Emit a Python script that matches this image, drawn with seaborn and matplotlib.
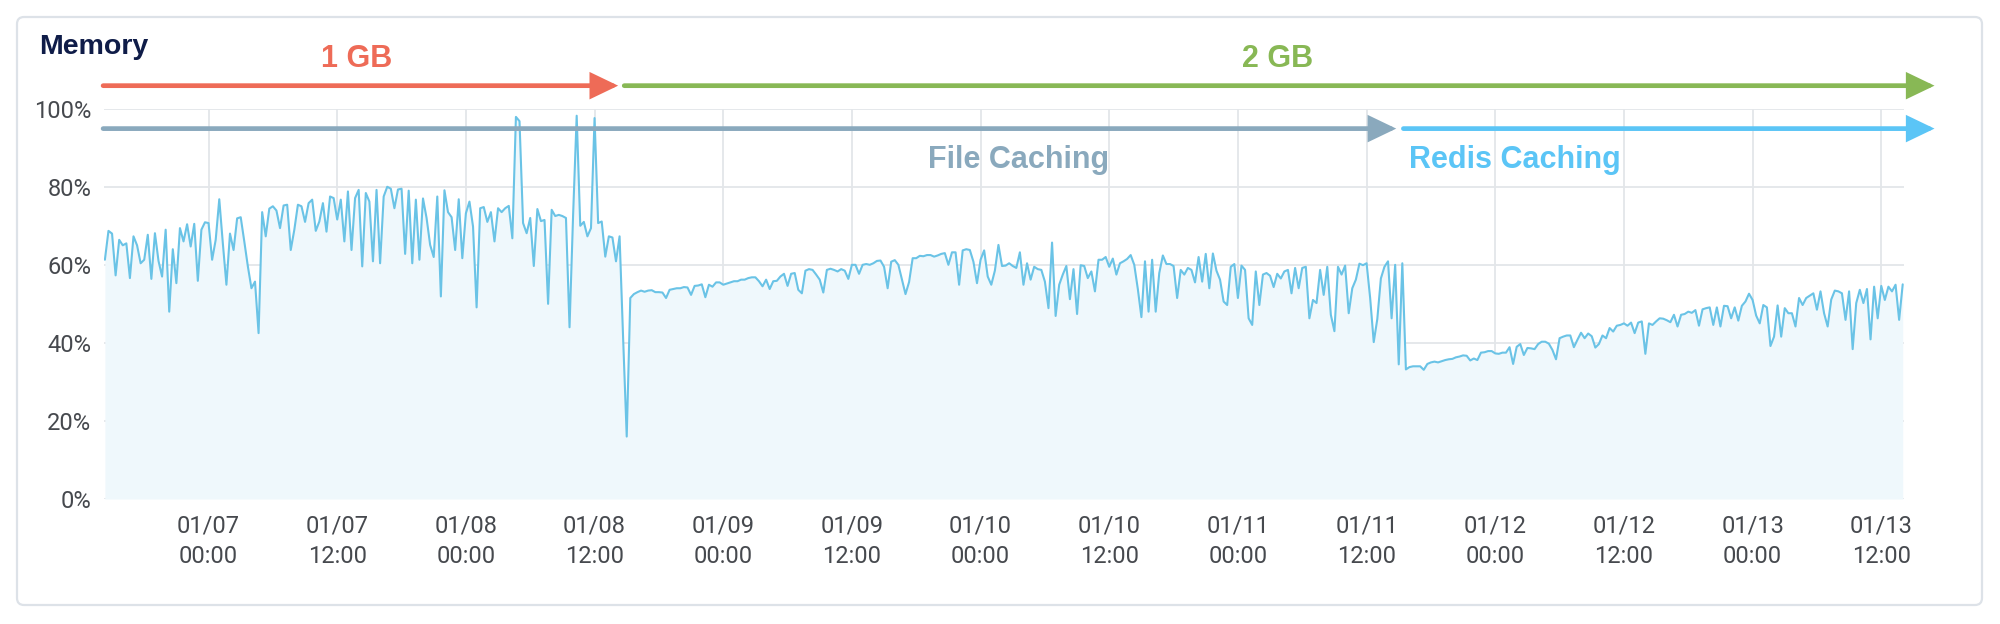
import matplotlib
matplotlib.use("Agg")
import matplotlib.pyplot as plt
import matplotlib.dates as mdates
import matplotlib.patches as mpatches
import matplotlib.transforms as mtransforms
import seaborn as sns
import numpy as np
import pandas as pd

# memory usage (%), one reading every 20 minutes
mem_1gb = [
    61.3, 68.7, 68, 57.3, 66.4, 65, 65.5, 56.6, 67.3, 65,
    60.4, 61.3, 67.7, 56.4, 68.1, 61, 57, 69, 48, 64,
    55.3, 69.4, 66, 70.4, 64.7, 70.5, 55.9, 69, 70.9, 70.7,
    61.3, 66.4, 76.8, 65.5, 54.9, 68, 63.8, 71.9, 72.2, 66,
    59.6, 54, 55.7, 42.5, 73.5, 67.3, 74.4, 75, 73.9, 69.4,
    75.2, 75.4, 63.8, 69, 75.4, 75, 71, 75.8, 76.7, 68.7,
    71.1, 75.8, 68.5, 77.5, 77.1, 71.6, 76.7, 66, 78.8, 63.8,
    77.1, 79.2, 59.6, 78.4, 76.2, 60.9, 79.2, 60.4, 77.5, 80,
    79.5, 74.5, 79.3, 79.5, 62.8, 79, 60.4, 76.7, 61.3, 77,
    72, 65.1, 62, 77.5, 51.9, 79.1, 73.5, 72.2, 63.8, 76.8,
    61.7, 73.2, 76.2, 69.8, 49.1, 74.5, 74.8, 71, 73.5, 66,
    74.5, 73.5, 74.5, 75.1, 66.8, 97.9, 96.8, 70.7, 68.1, 72,
    59.7, 74.3, 71.2, 71.5, 50, 74.1, 72.5, 72.8, 72.5, 72,
    44, 72.8, 98.2, 70, 71, 67.3, 69.4, 97.6, 70.7, 71.1,
    62.1, 67.3, 67, 60.9, 67.3, 41, 16,
]
mem_2gb_file = [
    51.5, 52.5, 53,
    53.4, 53.1, 53.4, 53.5, 53, 53, 52.9, 51.5, 53.6, 53.8,
    54, 54, 54.3, 54.2, 52.3, 54.6, 54.7, 55, 51.7, 54.9,
    54.4, 55.5, 55.5, 54.9, 55.2, 55.5, 55.8, 55.8, 56.2, 56.2,
    56.6, 56.8, 56.8, 55.8, 54.5, 56.2, 53.8, 55.8, 55.9, 57,
    57.7, 54.6, 57.7, 57.9, 53.6, 52.7, 58.5, 58.9, 58.7, 57.5,
    56.2, 52.9, 58.7, 59, 58.7, 58.3, 58.9, 58.5, 56.4, 60,
    60, 57.7, 60, 60.2, 60, 60.4, 61, 61.1, 59.5, 54,
    60.8, 61.2, 60, 56.2, 52.5, 55.6, 61.7, 61.7, 62.3, 62.2,
    62.5, 62.5, 62.1, 62.4, 62.8, 63, 60, 63.2, 63.2, 54.9,
    63.7, 64, 63.8, 60.8, 55.3, 61.3, 63.7, 57, 54.9, 58.5,
    65.1, 59.7, 59.8, 60.4, 59.7, 59.2, 63.2, 54.9, 60.4, 56.2,
    59.5, 58.9, 58.7, 55.7, 48.9, 65.7, 46.9, 54.9, 57.5, 59.7,
    51.2, 58.9, 47.4, 59.9, 59.7, 56.6, 58.3, 53.2, 61.3, 61.3,
    62, 59.5, 61.6, 57.5, 60.4, 60.9, 61.5, 62.5, 60, 53.8,
    46.6, 60.9, 48, 61.3, 48, 57.9, 62.4, 60.2, 60.2, 59.7,
    51.5, 58.7, 57.5, 59.2, 58.7, 55.5, 62, 55.7, 62.8, 54,
    62.9, 58.5, 56.2, 50.6, 49.7, 59.5, 60.2, 51.5, 59.8, 58.7,
    46.3, 44.6, 58.3, 49.7, 57.5, 57.9, 57.2, 54.3, 57.7, 56.5,
    58.3, 58.7, 52.7, 59.2, 54, 59.2, 59.5, 46.3, 51, 50.2,
    58.7, 52.3, 59.5, 47.2, 43, 59.5, 57.5, 59.8, 47.6, 54,
    56.2, 60.3, 59.9, 60.4, 51.5, 40.2, 46.1, 56.5, 59.5, 60.9,
    46.3, 60, 34.5, 60.4,
]
mem_2gb_redis = [
    33.2, 33.8, 34, 34, 34, 33.1,
    34.6, 35, 35.2, 35, 35.3, 35.6, 35.8, 35.9, 36.3, 36.5,
    36.8, 36.7, 35.5, 36, 35.6, 37.5, 37.6, 37.9, 37.9, 37.3,
    37.2, 37.5, 37.5, 38.9, 34.6, 39, 39.7, 36.9, 38.7, 38.6,
    38.4, 39.7, 40.3, 40.3, 39.8, 38.2, 35.8, 41.2, 41.6, 41.9,
    41.9, 38.9, 40.8, 42.6, 41.2, 42.4, 41.7, 38.8, 39.7, 41.9,
    41.2, 43.8, 42.9, 44.4, 44.6, 45, 44.4, 45.2, 42.5, 45.2,
    45.5, 37.2, 45, 44.6, 45.5, 46.3, 46.2, 45.8, 45.3, 47.2,
    44.2, 47.2, 47.4, 48, 47.7, 48.4, 44.4, 48.6, 48.9, 49.1,
    44.6, 49.1, 44.2, 49.5, 49.4, 46.3, 49.1, 45.7, 49.5, 50.6,
    52.6, 51, 47, 45, 49.7, 49.1, 39.2, 41.6, 49.6, 41.6,
    48.9, 47.6, 47.6, 44.2, 51.5, 49.7, 51.5, 52.1, 52.7, 48.5,
    53.2, 47.6, 44.2, 51.1, 53.4, 53.2, 52.7, 45.9, 53.2, 38.4,
    50.2, 53.6, 50.2, 53.8, 40.9, 54.4, 46.3, 54.6, 51, 54.4,
    53.2, 54.9, 45.9, 55,
]

memory = mem_1gb + mem_2gb_file + mem_2gb_redis
times = pd.date_range("2020-01-06 14:20", periods=len(memory), freq="20min")
df = pd.DataFrame({"time": times, "memory": memory})

tick_times = pd.date_range("2020-01-07 00:00", "2020-01-13 12:00", freq="12h")
y_ticks = [0, 20, 40, 60, 80, 100]

# annotations: label, arrow start, arrow end, label anchor, colour
ram_phases = [
    ("1 GB", "2020-01-06 14:10", "2020-01-08 14:12", "2020-01-07 13:50", "#ee6b57"),
    ("2 GB", "2020-01-08 14:46", "2020-01-13 16:58", "2020-01-11 03:44", "#88b855"),
]
cache_phases = [
    ("File Caching", "2020-01-06 14:10", "2020-01-11 14:46", "2020-01-10 03:30", "#8aa9bd"),
    ("Redis Caching", "2020-01-11 15:26", "2020-01-13 16:58", "2020-01-11 15:56", "#5bc5f6"),
]

sns.set_theme(style="white")
plt.rcParams["font.family"] = ["Roboto", "DejaVu Sans"]

fig = plt.figure(figsize=(20, 6.24), dpi=100)
fig.patch.set_facecolor("white")

card = mpatches.FancyBboxPatch((17, 19), 1965, 588, boxstyle="round,pad=0,rounding_size=7",
                               transform=mtransforms.IdentityTransform(),
                               facecolor="white", edgecolor="#dde2e8", lw=1.6, zorder=0)
fig.add_artist(card)

fig.text(39 / 2000, 1 - 47 / 624, "Memory", fontsize=20.5, fontweight="bold", color="#0f1c48",
         ha="left", va="center", family="Liberation Sans")

ax = fig.add_axes([0.052, 0.2003, 0.8998, 0.6255])
ax.set_facecolor("none")

ax.fill_between(df["time"], df["memory"], 0, color="#eff8fc", lw=0, zorder=1)
sns.lineplot(data=df, x="time", y="memory", ax=ax, color="#6ac3e6", linewidth=1.5, zorder=2)

ax.set_xlim(times[0] - pd.Timedelta(minutes=5), times[-1] + pd.Timedelta(minutes=5))
ax.set_ylim(0, 100)
ax.set_xticks(tick_times)
ax.xaxis.set_major_formatter(mdates.DateFormatter("%m/%d\n%H:%M"))
ax.set_yticks(y_ticks)
ax.set_yticklabels([f"{v}%" for v in y_ticks])
ax.set_xlabel("")
ax.set_ylabel("")

ax.grid(True, color="#e3e6e9", lw=1.3)
ax.set_axisbelow(True)
for s in ax.spines.values():
    s.set_visible(False)
ax.tick_params(axis="x", length=0, pad=11, labelsize=17, labelcolor="#46494e")
ax.tick_params(axis="y", length=0, pad=9, labelsize=17, labelcolor="#46494e")
for lbl in ax.get_xticklabels():
    lbl.set_linespacing(1.45)


def phase(label, start, end, anchor, colour, level, text_level, ha):
    x0 = mdates.date2num(pd.Timestamp(start))
    x1 = mdates.date2num(pd.Timestamp(end))
    ax.annotate("", xy=(x1, level), xytext=(x0, level), annotation_clip=False,
                arrowprops=dict(arrowstyle="-|>,head_length=0.75,head_width=0.36",
                                color=colour, lw=3.4, shrinkA=0, shrinkB=0,
                                mutation_scale=20, joinstyle="miter"))
    ax.text(mdates.date2num(pd.Timestamp(anchor)), text_level, label, ha=ha, va="center",
            fontsize=22, fontweight="bold", color=colour, family="Liberation Sans", clip_on=False)


for label, start, end, anchor, colour in ram_phases:
    phase(label, start, end, anchor, colour, 105.9, 112.8, "center")
for label, start, end, anchor, colour in cache_phases:
    phase(label, start, end, anchor, colour, 94.9, 86.9,
          "left" if label.startswith("Redis") else "center")

fig.savefig("out.png", dpi=100, facecolor="white")
